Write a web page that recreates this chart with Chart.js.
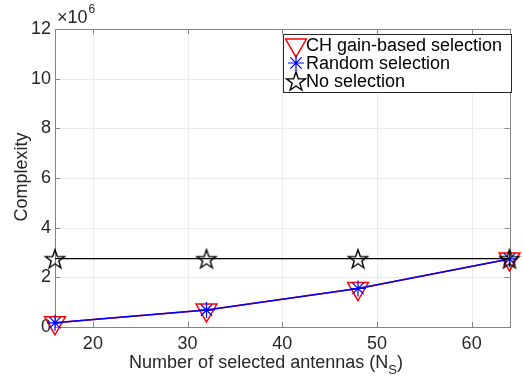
<!DOCTYPE html>
<html>
<head>
<meta charset="utf-8">
<script src="https://cdn.jsdelivr.net/npm/chart.js@4.4.0/dist/chart.umd.min.js"></script>
<style>
  html, body { margin: 0; padding: 0; background: #fff; }
  #wrap { width: 523px; height: 377px; }
</style>
</head>
<body>
<div id="wrap"><canvas id="chart" width="523" height="377"></canvas></div>
<script>
// values in units of 10^6
const antennas = [16, 32, 48, 64];
const chGainSel = [0.17, 0.68, 1.55, 2.74];
const randomSel = [0.17, 0.68, 1.55, 2.74];
const noSel = [2.75, 2.75, 2.75, 2.75];
const xTicks = [20, 30, 40, 50, 60];
const yTicks = [0, 2, 4, 6, 8, 10, 12];
const seriesLabels = ["CH gain-based selection", "Random selection", "No selection"];

const FONT = "Liberation Sans, Arial, sans-serif";

// hollow five-point star, like MATLAB's 'p' marker
function makePentagram(R, color) {
    const c = document.createElement("canvas");
    const s = Math.ceil(R * 2 + 4);
    c.width = s; c.height = s;
    const g = c.getContext("2d");
    const cx = s / 2, cy = s / 2 + R * 0.1;
    const r = R * 0.4;
    g.beginPath();
    for (let i = 0; i < 10; i++) {
        const rad = i % 2 === 0 ? R : r;
        const a = -Math.PI / 2 + i * Math.PI / 5;
        const px = cx + rad * Math.cos(a), py = cy + rad * Math.sin(a);
        if (i === 0) g.moveTo(px, py); else g.lineTo(px, py);
    }
    g.closePath();
    g.strokeStyle = color;
    g.lineWidth = 1.4;
    g.stroke();
    return c;
}
const starImg = makePentagram(10, "#000");

function toPoints(ys) {
    return antennas.map((x, i) => ({ x: x, y: ys[i] }));
}

const frame = {
    id: "frame",
    beforeDatasetsDraw(chart) {
        const ctx = chart.ctx, a = chart.chartArea;
        ctx.save();
        ctx.strokeStyle = "#ebebeb";
        ctx.lineWidth = 1;
        const xs = chart.scales.x, ys = chart.scales.y;
        xTicks.forEach(t => {
            const px = Math.round(xs.getPixelForValue(t)) + 0.5;
            ctx.beginPath(); ctx.moveTo(px, a.top); ctx.lineTo(px, a.bottom); ctx.stroke();
        });
        yTicks.forEach(t => {
            const py = Math.round(ys.getPixelForValue(t)) + 0.5;
            ctx.beginPath(); ctx.moveTo(a.left, py); ctx.lineTo(a.right, py); ctx.stroke();
        });
        ctx.strokeStyle = "#848484";
        ctx.strokeRect(Math.round(a.left) + 0.5, Math.round(a.top) + 0.5,
            Math.round(a.right - a.left), Math.round(a.bottom - a.top));
        // inward ticks
        const tl = 5;
        xTicks.forEach(t => {
            const px = Math.round(xs.getPixelForValue(t)) + 0.5;
            ctx.beginPath();
            ctx.moveTo(px, a.bottom); ctx.lineTo(px, a.bottom - tl);
            ctx.moveTo(px, a.top); ctx.lineTo(px, a.top + tl);
            ctx.stroke();
        });
        yTicks.forEach(t => {
            const py = Math.round(ys.getPixelForValue(t)) + 0.5;
            ctx.beginPath();
            ctx.moveTo(a.left, py); ctx.lineTo(a.left + tl, py);
            ctx.moveTo(a.right, py); ctx.lineTo(a.right - tl, py);
            ctx.stroke();
        });
        ctx.restore();
    },
    afterDatasetsDraw(chart) {
        const ctx = chart.ctx, a = chart.chartArea;
        ctx.save();

        // exponent label
        ctx.fillStyle = "#262626";
        ctx.textBaseline = "alphabetic";
        ctx.textAlign = "left";
        ctx.font = "18px " + FONT;
        ctx.fillText("\u00d710", a.left + 2, a.top - 6);
        const w = ctx.measureText("\u00d710").width;
        ctx.font = "12px " + FONT;
        ctx.fillText("6", a.left + 2 + w + 1, a.top - 16);

        // x axis title with subscript
        const main = "Number of selected antennas (N";
        const sub = "S";
        const tail = ")";
        ctx.font = "18px " + FONT;
        const w1 = ctx.measureText(main).width;
        const w3 = ctx.measureText(tail).width;
        ctx.font = "13px " + FONT;
        const w2 = ctx.measureText(sub).width;
        const cx = 266;
        const x0 = cx - (w1 + w2 + w3) / 2;
        const base = 368;
        ctx.font = "18px " + FONT;
        ctx.fillText(main, x0, base);
        ctx.font = "13px " + FONT;
        ctx.fillText(sub, x0 + w1, base + 6);
        ctx.font = "18px " + FONT;
        ctx.fillText(tail, x0 + w1 + w2, base);

        // y axis title
        ctx.save();
        ctx.translate(27, 177);
        ctx.rotate(-Math.PI / 2);
        ctx.textAlign = "center";
        ctx.font = "18px " + FONT;
        ctx.fillText("Complexity", 0, 0);
        ctx.restore();

        // legend box
        const lx = 283, ly = 34, lw = 228, lh = 58;
        ctx.fillStyle = "#fff";
        ctx.fillRect(lx, ly, lw, lh);
        ctx.strokeStyle = "#262626";
        ctx.lineWidth = 1;
        ctx.strokeRect(lx + 0.5, ly + 0.5, lw, lh);
        const rows = [45, 63, 81];
        chart.data.datasets.forEach((ds, i) => {
            const mx = 296, my = rows[i];
            ctx.strokeStyle = ds.pointBorderColor || "#000";
            ctx.fillStyle = "rgba(0,0,0,0)";
            ctx.lineWidth = ds.pointBorderWidth || 1;
            Chart.helpers.drawPoint(ctx, {
                pointStyle: ds.pointStyle,
                radius: ds.pointRadius,
                rotation: ds.pointRotation || 0,
                borderWidth: ds.pointBorderWidth || 1
            }, mx, my);
            ctx.fillStyle = "#000";
            ctx.textBaseline = "middle";
            ctx.textAlign = "left";
            ctx.font = "18px " + FONT;
            ctx.fillText(ds.label, 306, my + 1);
        });
        ctx.restore();
    }
};

new Chart(document.getElementById("chart").getContext("2d"), {
    type: "scatter",
    data: {
        datasets: [
            {
                label: seriesLabels[0],
                data: toPoints(chGainSel),
                showLine: true,
                clip: false,
                borderColor: "#ff0000",
                borderWidth: 1.5,
                pointStyle: "triangle",
                pointRotation: 180,
                pointRadius: 12,
                pointBorderColor: "#ff0000",
                pointBackgroundColor: "rgba(0,0,0,0)",
                pointBorderWidth: 1.5,
                order: 3
            },
            {
                label: seriesLabels[1],
                data: toPoints(randomSel),
                showLine: true,
                clip: false,
                borderColor: "#0000ff",
                borderWidth: 1.5,
                pointStyle: "star",
                pointRadius: 8,
                pointBorderColor: "#0000ff",
                pointBackgroundColor: "rgba(0,0,0,0)",
                pointBorderWidth: 1.2,
                order: 2
            },
            {
                label: seriesLabels[2],
                data: toPoints(noSel),
                showLine: true,
                clip: false,
                borderColor: "#000000",
                borderWidth: 1.2,
                pointStyle: starImg,
                pointRadius: 10,
                pointBorderColor: "#000000",
                order: 1
            }
        ]
    },
    options: {
        responsive: false,
        animation: false,
        events: [],
        layout: { padding: { top: 29, right: 8, left: 0, bottom: 0 } },
        plugins: {
            legend: { display: false },
            tooltip: { enabled: false }
        },
        scales: {
            x: {
                type: "linear",
                min: 16,
                max: 64,
                afterBuildTicks: s => { s.ticks = xTicks.map(v => ({ value: v })); },
                afterFit: s => { s.height = 50; },
                grid: { display: false, drawTicks: false },
                border: { display: false },
                ticks: {
                    padding: 6,
                    color: "#262626",
                    font: { family: FONT, size: 18 }
                }
            },
            y: {
                type: "linear",
                min: 0,
                max: 12,
                afterBuildTicks: s => { s.ticks = yTicks.map(v => ({ value: v })); },
                afterFit: s => { s.width = 55; },
                grid: { display: false, drawTicks: false },
                border: { display: false },
                ticks: {
                    padding: 4,
                    color: "#262626",
                    font: { family: FONT, size: 18 }
                }
            }
        }
    },
    plugins: [frame]
});
</script>
</body>
</html>
